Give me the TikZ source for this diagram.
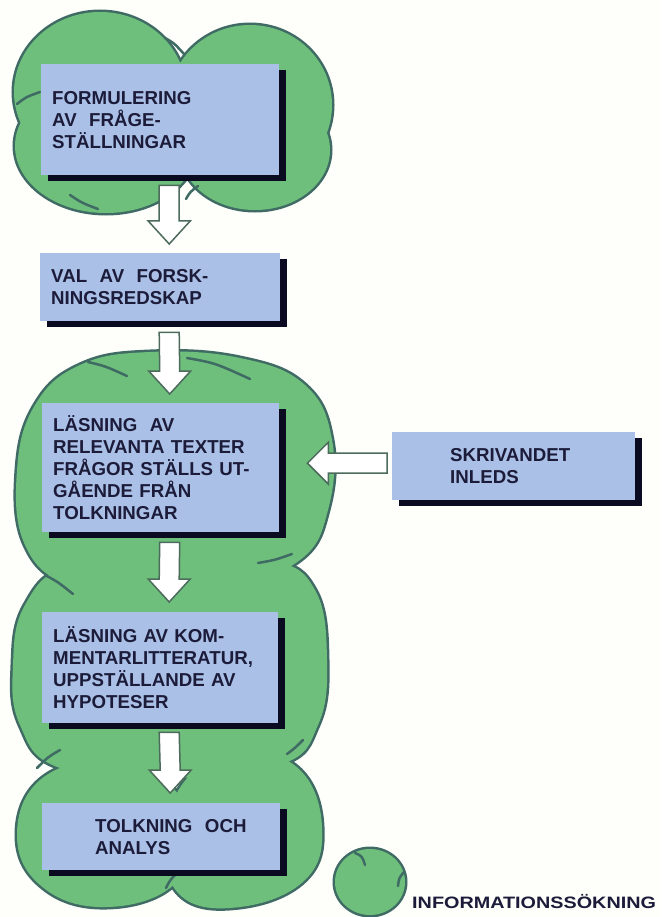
\documentclass[tikz,border=0pt]{standalone}
\usepackage{fontspec}
\setmainfont{Liberation Sans}
\usetikzlibrary{calc,shadows}
\definecolor{cbg}{HTML}{FEFEFA}
\definecolor{cgreen}{HTML}{6DBF7B}
\definecolor{cedge}{HTML}{3F6B64}
\definecolor{cbox}{HTML}{AAC0E6}
\definecolor{ctext}{HTML}{1C1C3A}
\definecolor{cshadow}{HTML}{0A0A20}
\definecolor{carrow}{HTML}{4D6B5C}
\tikzset{
  box/.style={rectangle, fill=cbox, draw=none, anchor=north west, align=left,
    inner xsep=11pt, inner ysep=0pt, text=ctext,
    font=\fontsize{18.7}{22}\selectfont\bfseries,
    drop shadow={shadow xshift=7pt, shadow yshift=-6pt, fill=cshadow, opacity=1}},
  blkarrow/.style={fill=white, draw=carrow, line width=1.5pt, line join=miter},
  cin/.style={draw=cedge, line width=2.5pt, line cap=round},
}
\newcommand\cloudone[1]{%
  \path[#1] (100,92) ellipse [x radius=86, y radius=80];
  \path[#1] (250,105) ellipse [x radius=82, y radius=80];
  \path[#1] (106,146) ellipse [x radius=91, y radius=67];
  \path[#1] (255,150) ellipse [x radius=75, y radius=60];}
\newcommand\cloudtwo[1]{%
  \path[#1] plot[smooth cycle, tension=0.7] coordinates {(150,352) (240,358) (305,385) (332,440) (328,510) (300,560) (230,585) (150,590) (70,585) (25,545) (17,470) (35,405) (80,365)};
  \path[#1] plot[smooth cycle, tension=0.7] coordinates {(170,556) (270,560) (315,590) (327,660) (318,725) (280,765) (170,778) (60,768) (20,725) (13,665) (25,605) (70,565)};
  \path[#1] plot[smooth cycle, tension=0.7] coordinates {(105,760) (165,780) (192,835) (170,888) (100,907) (40,885) (17,835) (40,780)};
  \path[#1] plot[smooth cycle, tension=0.7] coordinates {(245,752) (300,770) (322,827) (305,880) (240,907) (180,895) (165,835) (190,775)};}
\newcommand\cloudleg[1]{%
  \path[#1] (370,882) ellipse [x radius=35, y radius=33];}
\newcommand\blkdown[2]{\draw[blkarrow] ($(#1)+(-10,0)$) -- ($(#1)+(10,0)$) -- ($(#2)+(10,-23)$) -- ($(#2)+(21,-23)$) -- (#2) -- ($(#2)+(-21,-23)$) -- ($(#2)+(-10,-23)$) -- cycle;}
\newcommand\blkleft[2]{\draw[blkarrow] ($(#1)+(0,-10)$) -- ($(#1)+(0,10)$) -- ($(#2)+(21,10)$) -- ($(#2)+(21,21)$) -- (#2) -- ($(#2)+(21,-21)$) -- ($(#2)+(21,-10)$) -- cycle;}
\begin{document}
\begin{tikzpicture}[x=1pt, y=-1pt]
\fill[cbg] (0,0) rectangle (661,917);
\useasboundingbox (0,0) rectangle (661,917);

% clouds: stroke then fill gives the outline of the union
\cloudone{draw=cedge, line width=5pt}
\cloudone{fill=cgreen}
\cloudtwo{draw=cedge, line width=5pt}
\cloudtwo{fill=cgreen}
\cloudleg{draw=cedge, line width=5pt}
\cloudleg{fill=cgreen}

% inner notch lines
\draw[cin] (165,38) .. controls (174,43) .. (184,54);
\draw[cin] (17,104) .. controls (26,97) .. (40,92);
\draw[cin] (70,195) .. controls (82,203) .. (98,209);
\draw[cin] (186,199) .. controls (190,192) .. (198,186);
\draw[cin] (88,362) .. controls (105,366) .. (127,376);
\draw[cin] (187,358) .. controls (215,363) .. (250,379);
\draw[cin] (258,563) .. controls (275,560) .. (292,554);
\draw[cin] (45,575) .. controls (58,582) .. (73,594);
\draw[cin] (60,750) .. controls (48,757) .. (37,768);
\draw[cin] (287,754) .. controls (295,748) .. (303,740);
\draw[cin] (166,888) .. controls (170,880) .. (178,872);
\draw[cin] (355,853) .. controls (362,856) .. (365,865);
\draw[cin] (404,872) .. controls (399,878) .. (398,886);

% boxes
\node[box, minimum width=238pt, minimum height=111pt, text width=216pt] (b1) at (41,64)
  {FORMULERING\\AV\ \ FRÅGE-\\STÄLLNINGAR};
\node[box, minimum width=240pt, minimum height=68pt, text width=218pt] (b2) at (40,253)
  {VAL\ \ AV\ \ FORSK-\\NINGSREDSKAP};
\node[box, minimum width=237pt, minimum height=129pt, text width=215pt] (b3) at (42,403)
  {LÄSNING\ \ AV\\RELEVANTA TEXTER\\FRÅGOR STÄLLS UT-\\GÅENDE FRÅN\\TOLKNINGAR};
\node[box, minimum width=236pt, minimum height=111pt, text width=214pt] (b4) at (42,612)
  {LÄSNING AV KOM-\\MENTARLITTERATUR,\\UPPSTÄLLANDE AV\\HYPOTESER};
\node[box, minimum width=238pt, minimum height=67pt, text width=216pt] (b5) at (42,803)
  {\hspace*{42pt}TOLKNING\ \ OCH\\\hspace*{42pt}ANALYS};
\node[box, minimum width=243pt, minimum height=68pt, text width=221pt] (s) at (392,432)
  {\hspace*{47pt}SKRIVANDET\\\hspace*{47pt}INLEDS};

% legend text
\node[anchor=base west, inner sep=0pt, text=ctext, font=\fontsize{16.5}{18}\selectfont\bfseries] (leg) at (412,908)
  {\scalebox{1.2}[1]{INFORMATIONSSÖKNING}};

% block arrows
\coordinate (a1s) at ([xshift=9pt,yshift=-10pt]b1.south);
\coordinate (a1e) at ([xshift=9pt,yshift=9pt]b2.north);
\coordinate (a2s) at ([xshift=9pt,yshift=-11pt]b2.south);
\coordinate (a2e) at ([xshift=9pt,yshift=9pt]b3.north);
\coordinate (a3s) at ([xshift=9pt,yshift=-10pt]b3.south);
\coordinate (a3e) at ([xshift=9pt,yshift=10pt]b4.north);
\coordinate (a4s) at ([xshift=9pt,yshift=-9pt]b4.south);
\coordinate (a4e) at ([xshift=9pt,yshift=10pt]b5.north);
\coordinate (hs) at ([xshift=-5pt,yshift=3pt]s.west);
\coordinate (he) at ($(b3.east |- hs)+(28,0)$);
\blkdown{a1s}{a1e}
\blkdown{a2s}{a2e}
\blkdown{a3s}{a3e}
\blkdown{a4s}{a4e}
\blkleft{hs}{he}
\end{tikzpicture}
\end{document}
